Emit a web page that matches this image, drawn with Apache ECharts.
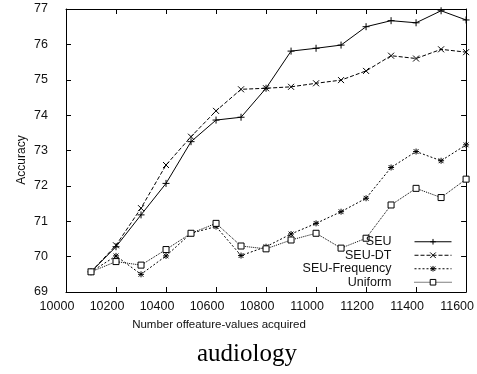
<!DOCTYPE html>
<html>
<head>
<meta charset="utf-8">
<script src="https://cdn.jsdelivr.net/npm/echarts@6/dist/echarts.min.js"></script>
<style>
  html, body { margin: 0; padding: 0; background: #fff; }
  #chart { width: 477px; height: 374px; }
</style>
</head>
<body>
<div id="chart"></div>
<script>
// Feature-values acquired (x) and accuracy per acquisition policy
const acquired = [10100, 10200, 10300, 10400, 10500, 10600, 10700, 10800,
                  10900, 11000, 11100, 11200, 11300, 11400, 11500, 11600];
const seu = [69.57, 70.28, 71.18, 72.07, 73.25, 73.86, 73.94, 74.76,
             75.81, 75.89, 75.98, 76.50, 76.67, 76.61, 76.95, 76.69];
const seuDT = [69.57, 70.32, 71.37, 72.59, 73.39, 74.12, 74.73, 74.76,
               74.80, 74.90, 74.99, 75.25, 75.68, 75.60, 75.86, 75.78];
const seuFreq = [69.57, 70.02, 69.50, 70.02, 70.66, 70.85, 70.03, 70.28,
                 70.64, 70.94, 71.27, 71.65, 72.52, 72.97, 72.71, 73.16];
const uniform = [69.57, 69.86, 69.76, 70.20, 70.66, 70.94, 70.30, 70.22,
                 70.47, 70.66, 70.24, 70.52, 71.46, 71.93, 71.67, 72.19];
const seriesNames = ['SEU', 'SEU-DT', 'SEU-Frequency', 'Uniform'];
const xTitle = 'Number offeature-values acquired';
const yTitle = 'Accuracy';
const chartTitle = 'audiology';

const pair = (ys) => acquired.map((x, i) => [x, ys[i]]);

const SYM_PLUS = 'path://M0,5L10,5M5,0L5,10';
const SYM_CROSS = 'path://M0,0L10,10M10,0L0,10';
const SYM_STAR = 'path://M0,5L10,5M5,0L5,10M1,1L9,9M9,1L1,9';

function lineSeries(name, ys, symbol, size, dash, fill) {
  return {
    name: name,
    type: 'line',
    data: pair(ys),
    symbol: symbol,
    symbolSize: size,
    showAllSymbol: true,
    animation: false,
    itemStyle: { color: fill || '#000', borderColor: '#000', borderWidth: 1 },
    lineStyle: { color: '#000', width: 1, type: dash },
    emphasis: { disabled: true }
  };
}

const font = '"Liberation Sans", Arial, sans-serif';
const chart = echarts.init(document.getElementById('chart'), null, { renderer: 'canvas' });

const tickInside = { show: true, inside: true, length: 5, lineStyle: { color: '#000', width: 1 } };
const axisLine = { show: true, lineStyle: { color: '#000', width: 1 } };

chart.setOption({
  animation: false,
  backgroundColor: '#fff',
  grid: { left: 66, right: 9, top: 9, bottom: 82 },
  xAxis: [{
    type: 'value', min: 10000, max: 11600, interval: 200,
    axisLine: axisLine, axisTick: tickInside, splitLine: { show: false },
    axisLabel: {
      color: '#111', fontFamily: font, fontSize: 12.5, margin: 8, padding: [0, 18, 0, 0],
      formatter: (v) => String(v)
    }
  }, {
    type: 'value', position: 'top', min: 10000, max: 11600, interval: 200,
    axisLine: axisLine, axisTick: tickInside, splitLine: { show: false },
    axisLabel: { show: false }
  }],
  yAxis: [{
    type: 'value', min: 69, max: 77, interval: 1,
    axisLine: axisLine, axisTick: tickInside, splitLine: { show: false },
    axisLabel: { color: '#111', fontFamily: font, fontSize: 12.5, margin: 18 }
  }, {
    type: 'value', position: 'right', min: 69, max: 77, interval: 1,
    axisLine: axisLine, axisTick: tickInside, splitLine: { show: false },
    axisLabel: { show: false }
  }],
  legend: {
    data: seriesNames,
    orient: 'vertical',
    align: 'right',
    right: 25,
    top: 235,
    itemWidth: 37,
    itemHeight: 7,
    itemGap: 0,
    padding: 0,
    selectedMode: false,
    lineStyle: { width: 1 },
    itemStyle: { borderWidth: 1 },
    textStyle: { color: '#111', fontFamily: font, fontSize: 12.5, lineHeight: 13.5, padding: [0, 18, 0, 0] }
  },
  series: [
    lineSeries(seriesNames[0], seu, SYM_PLUS, 7, 'solid'),
    lineSeries(seriesNames[1], seuDT, SYM_CROSS, 6, [4, 2]),
    lineSeries(seriesNames[2], seuFreq, SYM_STAR, 6, [2, 2]),
    lineSeries(seriesNames[3], uniform, 'rect', 6, [1, 1], '#fff')
  ],
  graphic: [
    {
      type: 'text', x: 219, y: 325,
      style: { text: xTitle, fill: '#111', font: '11.5px ' + font, align: 'center', verticalAlign: 'middle' }
    },
    {
      type: 'text', x: 22, y: 160, rotation: Math.PI / 2,
      style: { text: yTitle, fill: '#111', font: '12px ' + font, align: 'center', verticalAlign: 'middle' }
    },
    {
      type: 'text', x: 247, y: 354,
      style: { text: chartTitle, fill: '#000', font: '25px "Liberation Serif", "Times New Roman", serif', align: 'center', verticalAlign: 'middle' }
    }
  ]
});
</script>
</body>
</html>
